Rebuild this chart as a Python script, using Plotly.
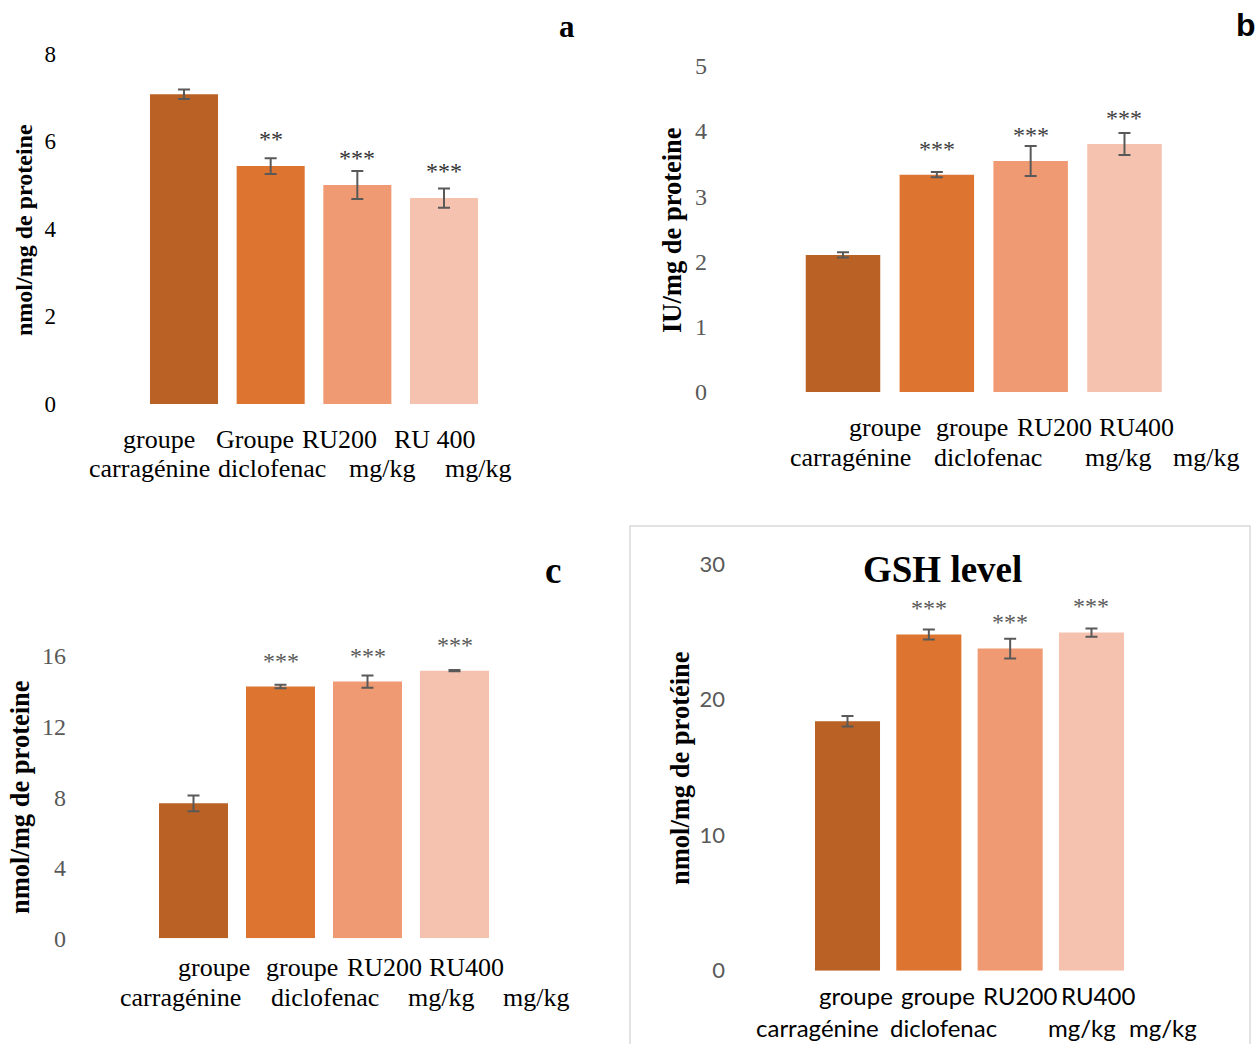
import plotly.graph_objects as go

W, H = 1256, 1044

# ---------------- data ----------------
categories_a = ["groupe carragénine", "Groupe diclofenac", "RU200 mg/kg", "RU 400 mg/kg"]
categories = ["groupe carragénine", "groupe diclofenac", "RU200 mg/kg", "RU400 mg/kg"]
label_top_a = ["groupe", "Groupe", "RU200", "RU 400"]
label_top = ["groupe", "groupe", "RU200", "RU400"]
label_bottom = ["carragénine", "diclofenac", "mg/kg", "mg/kg"]

a_mean = [7.07, 5.43, 5.00, 4.70]
a_err = [0.11, 0.18, 0.32, 0.22]
a_sig = ["", "**", "***", "***"]

b_mean = [2.10, 3.33, 3.54, 3.80]
b_err = [0.04, 0.04, 0.23, 0.17]
b_sig = ["", "***", "***", "***"]

c_mean = [7.65, 14.27, 14.55, 15.17]
c_err = [0.45, 0.10, 0.35, 0.03]
c_sig = ["", "***", "***", "***"]

d_mean = [18.41, 24.81, 23.78, 24.96]
d_err = [0.39, 0.37, 0.73, 0.30]
d_sig = ["", "***", "***", "***"]

y_ticks_a = [0, 2, 4, 6, 8]
y_ticks_b = [0, 1, 2, 3, 4, 5]
y_ticks_c = [0, 4, 8, 12, 16]
y_ticks_d = [0, 10, 20, 30]

bar_colors = ["#BA6125", "#DD7430", "#F09A73", "#F5C2AF"]

SERIF = "Liberation Serif, Times New Roman, serif"
SANS = "Lato, Carlito, Calibri, sans-serif"


def xp(px):
    return px / W


def yp(py):
    return 1 - py / H


panels = [
    dict(cats=categories_a, mean=a_mean, err=a_err, sig=a_sig, ticks=y_ticks_a,
         top=label_top_a, bottom=label_bottom,
         L=57, R=520, c0=184, pitch=86.67, bw=0.785, y0=404, y1=53.5,
         tickfont=dict(family=SERIF, size=23, color="#000000"),
         sigcolor="#333333", sigshift=27,
         ytitle="nmol/mg de proteine", ytx=24, yty=230, ytsize=24,
         top_x=[158.5, 255, 339.5, 435], top_y=439,
         bot_x=[149.5, 272, 382, 477.5], bot_y=468,
         labfont=dict(family=SERIF, size=26, color="#000000")),
    dict(cats=categories, mean=b_mean, err=b_err, sig=b_sig, ticks=y_ticks_b,
         top=label_top, bottom=label_bottom,
         L=708, R=1200, c0=843, pitch=93.83, bw=0.794, y0=392, y1=65.7,
         tickfont=dict(family=SERIF, size=24, color="#595959"),
         sigcolor="#404040", sigshift=26,
         ytitle="IU/mg de proteine", ytx=672, yty=230, ytsize=26.5,
         top_x=[884.5, 972, 1054, 1136.5], top_y=427,
         bot_x=[850.5, 988, 1117.5, 1206], bot_y=458,
         labfont=dict(family=SERIF, size=26, color="#000000")),
    dict(cats=categories, mean=c_mean, err=c_err, sig=c_sig, ticks=y_ticks_c,
         top=label_top, bottom=label_bottom,
         L=67, R=560, c0=193.5, pitch=87, bw=0.793, y0=938.3, y1=656,
         tickfont=dict(family=SERIF, size=24, color="#595959"),
         sigcolor="#595959", sigshift=26,
         ytitle="nmol/mg de proteine", ytx=20, yty=797, ytsize=26.5,
         top_x=[214, 302, 384.5, 466.5], top_y=967,
         bot_x=[180.5, 324.5, 441, 536], bot_y=997,
         labfont=dict(family=SERIF, size=26, color="#000000")),
    dict(cats=categories, mean=d_mean, err=d_err, sig=d_sig, ticks=y_ticks_d,
         top=label_top, bottom=label_bottom,
         L=726, R=1200, c0=847.5, pitch=81.33, bw=0.80, y0=970.7, y1=564.3,
         tickfont=dict(family=SANS, size=22, color="#595959"),
         sigcolor="#595959", sigshift=27,
         ytitle="nmol/mg de protéine", ytx=680, yty=768, ytsize=26.5,
         top_x=[855.5, 937.5, 1019.5, 1097.5], top_y=995,
         bot_x=[817, 943, 1081.5, 1162.5], bot_y=1027,
         labfont=dict(family=SANS, size=24, color="#000000")),
]

fig = go.Figure()
annotations = []
layout_axes = {}

for i, p in enumerate(panels):
    n = "" if i == 0 else str(i + 1)
    xa, ya = "x" + n, "y" + n
    fig.add_trace(go.Bar(
        x=p["cats"], y=p["mean"], xaxis=xa, yaxis=ya,
        marker=dict(color=bar_colors, line=dict(width=0)),
        width=p["bw"], showlegend=False, hoverinfo="skip",
        error_y=dict(type="data", array=p["err"], visible=True,
                     color="#595959", thickness=2, width=6),
    ))
    layout_axes["xaxis" + n] = dict(
        domain=[xp(p["L"]), xp(p["R"])],
        range=[(p["L"] - p["c0"]) / p["pitch"], (p["R"] - p["c0"]) / p["pitch"]],
        type="category", categoryorder="array", categoryarray=p["cats"],
        showticklabels=False, showgrid=False, zeroline=False, showline=False,
        ticks="", anchor=ya, fixedrange=True, automargin=False,
    )
    layout_axes["yaxis" + n] = dict(
        domain=[yp(p["y0"]), yp(p["y1"])],
        range=[0, p["ticks"][-1]], tickmode="array", tickvals=p["ticks"],
        showgrid=False, zeroline=False, showline=False, ticks="",
        tickfont=p["tickfont"], anchor=xa, fixedrange=True, automargin=False,
    )
    # significance stars
    for cat, m, s in zip(p["cats"], p["mean"], p["sig"]):
        if s:
            annotations.append(dict(
                x=cat, y=m, xref=xa, yref=ya, text=s, showarrow=False,
                xanchor="center", yanchor="middle", yshift=p["sigshift"],
                font=dict(family=SERIF, size=24, color=p["sigcolor"]),
            ))
    # category labels (two lines)
    for w, xx in zip(p["top"], p["top_x"]):
        annotations.append(dict(
            x=xp(xx), y=yp(p["top_y"]), xref="paper", yref="paper", text=w,
            showarrow=False, xanchor="center", yanchor="middle", font=p["labfont"]))
    for w, xx in zip(p["bottom"], p["bot_x"]):
        annotations.append(dict(
            x=xp(xx), y=yp(p["bot_y"]), xref="paper", yref="paper", text=w,
            showarrow=False, xanchor="center", yanchor="middle", font=p["labfont"]))
    # y-axis title
    annotations.append(dict(
        x=xp(p["ytx"]), y=yp(p["yty"]), xref="paper", yref="paper",
        text="<b>%s</b>" % p["ytitle"], textangle=-90, showarrow=False,
        xanchor="center", yanchor="middle",
        font=dict(family=SERIF, size=p["ytsize"], color="#000000")))

# panel letters & title
annotations += [
    dict(x=xp(567), y=yp(27), xref="paper", yref="paper", text="<b>a</b>",
         xanchor="center", yanchor="middle",
         showarrow=False, font=dict(family=SERIF, size=31, color="#000")),
    dict(x=xp(1246), y=yp(25), xref="paper", yref="paper", text="<b>b</b>",
         xanchor="center", yanchor="middle",
         showarrow=False, font=dict(family="Liberation Sans, Arial, sans-serif", size=32, color="#000")),
    dict(x=xp(553), y=yp(570), xref="paper", yref="paper", text="<b>c</b>",
         xanchor="center", yanchor="middle",
         showarrow=False, font=dict(family=SERIF, size=37, color="#000")),
    dict(x=xp(942), y=yp(569), xref="paper", yref="paper", text="<b>GSH level</b>",
         xanchor="center", yanchor="middle",
         showarrow=False, font=dict(family=SERIF, size=37, color="#000")),
]

shapes = [dict(type="rect", xref="paper", yref="paper",
               x0=xp(630), x1=xp(1250), y0=yp(1050), y1=yp(526),
               line=dict(color="#D9D9D9", width=1.5), fillcolor="rgba(0,0,0,0)",
               layer="below")]

fig.update_layout(
    width=W, height=H, margin=dict(l=0, r=0, t=0, b=0, autoexpand=False),
    paper_bgcolor="white", plot_bgcolor="white", autosize=False,
    bargap=0.2, showlegend=False,
    annotations=annotations, shapes=shapes,
    **layout_axes,
)

fig.write_html(
    "out.html", config={"displayModeBar": False},
    post_script="document.body.style.margin='0';document.body.style.overflow='hidden';",
)
